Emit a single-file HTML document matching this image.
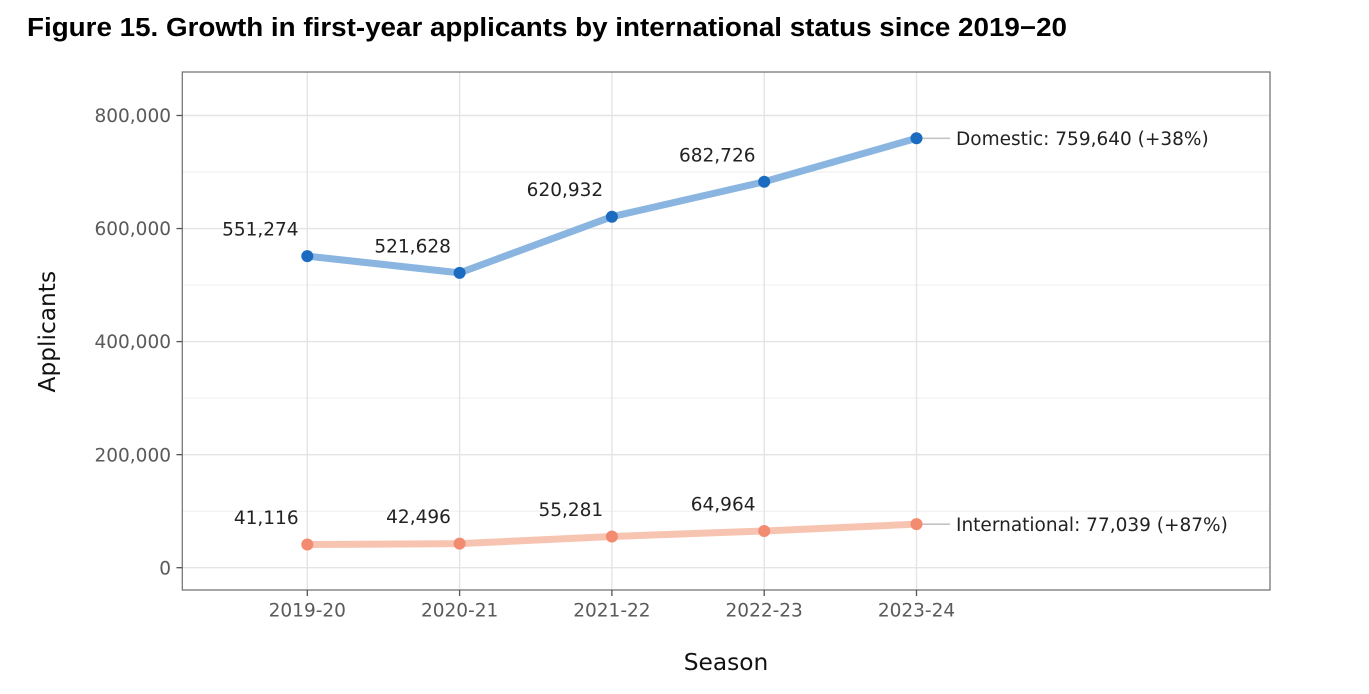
<!DOCTYPE html>
<html>
<head>
<meta charset="utf-8">
<style>
  html,body{margin:0;padding:0;background:#fff;}
  svg{display:block;}
  .t{font-family:"DejaVu Sans","Liberation Sans",sans-serif;}
</style>
</head>
<body>
<svg width="1369" height="694" viewBox="0 0 1369 694" xmlns="http://www.w3.org/2000/svg">
  <rect width="1369" height="694" fill="#fff"/>
  <!-- Title -->
  <text x="27" y="36" font-family="'Liberation Sans',Arial,sans-serif" font-weight="bold" font-size="25.5" fill="#000" textLength="1040" lengthAdjust="spacingAndGlyphs">Figure 15. Growth in first-year applicants by international status since 2019−20</text>

  <!-- Panel background -->
  <rect x="182.3" y="72" width="1087.7" height="518" fill="#fff"/>
  <!-- minor gridlines -->
  <g stroke="#ececec" stroke-width="0.9">
    <line x1="182.3" x2="1270" y1="511.2" y2="511.2"/>
    <line x1="182.3" x2="1270" y1="398.1" y2="398.1"/>
    <line x1="182.3" x2="1270" y1="285.1" y2="285.1"/>
    <line x1="182.3" x2="1270" y1="172.0" y2="172.0"/>
  </g>
  <!-- major gridlines -->
  <g stroke="#e4e4e4" stroke-width="1.4">
    <line x1="182.3" x2="1270" y1="567.7" y2="567.7"/>
    <line x1="182.3" x2="1270" y1="454.65" y2="454.65"/>
    <line x1="182.3" x2="1270" y1="341.6" y2="341.6"/>
    <line x1="182.3" x2="1270" y1="228.55" y2="228.55"/>
    <line x1="182.3" x2="1270" y1="115.5" y2="115.5"/>
    <line x1="307.3" x2="307.3" y1="72" y2="590"/>
    <line x1="459.6" x2="459.6" y1="72" y2="590"/>
    <line x1="611.9" x2="611.9" y1="72" y2="590"/>
    <line x1="764.2" x2="764.2" y1="72" y2="590"/>
    <line x1="916.5" x2="916.5" y1="72" y2="590"/>
  </g>

  <!-- Leader lines -->
  <g stroke="#c4c4c4" stroke-width="1.6">
    <line x1="916.5" x2="950" y1="138.3" y2="138.3"/>
    <line x1="916.5" x2="950" y1="524.15" y2="524.15"/>
  </g>

  <!-- Domestic line -->
  <polyline points="307.3,256.1 459.6,272.85 611.9,216.7 764.2,181.8 916.5,138.3" fill="none" stroke="#89b5e0" stroke-width="7" stroke-linejoin="round" stroke-linecap="butt"/>
  <!-- International line -->
  <polyline points="307.3,544.46 459.6,543.68 611.9,536.45 764.2,530.98 916.5,524.15" fill="none" stroke="#f8c4b2" stroke-width="7" stroke-linejoin="round" stroke-linecap="butt"/>

  <!-- Points -->
  <g fill="#1b6bc0">
    <circle cx="307.3" cy="256.1" r="6"/>
    <circle cx="459.6" cy="272.85" r="6"/>
    <circle cx="611.9" cy="216.7" r="6"/>
    <circle cx="764.2" cy="181.8" r="6"/>
    <circle cx="916.5" cy="138.3" r="6"/>
  </g>
  <g fill="#f28b6f">
    <circle cx="307.3" cy="544.46" r="6"/>
    <circle cx="459.6" cy="543.68" r="6"/>
    <circle cx="611.9" cy="536.45" r="6"/>
    <circle cx="764.2" cy="530.98" r="6"/>
    <circle cx="916.5" cy="524.15" r="6"/>
  </g>

  <!-- Data labels -->
  <g class="t" font-size="18.5" fill="#222" text-anchor="end">
    <text x="298.6" y="235.6">551,274</text>
    <text x="450.9" y="252.3">521,628</text>
    <text x="603.2" y="196.2">620,932</text>
    <text x="755.5" y="161.3">682,726</text>
    <text x="298.6" y="524">41,116</text>
    <text x="450.9" y="523.2">42,496</text>
    <text x="603.2" y="516">55,281</text>
    <text x="755.5" y="510.5">64,964</text>
  </g>
  <!-- End labels -->
  <g class="t" font-size="18.5" fill="#222">
    <text x="956" y="144.9">Domestic: 759,640 (+38%)</text>
    <text x="956" y="530.8">International: 77,039 (+87%)</text>
  </g>

  <!-- Panel border -->
  <rect x="182.3" y="72" width="1087.7" height="518" fill="none" stroke="#777" stroke-width="1.3"/>

  <!-- Axis ticks -->
  <g stroke="#555" stroke-width="1.3">
    <line x1="176.5" x2="182.3" y1="567.7" y2="567.7"/>
    <line x1="176.5" x2="182.3" y1="454.65" y2="454.65"/>
    <line x1="176.5" x2="182.3" y1="341.6" y2="341.6"/>
    <line x1="176.5" x2="182.3" y1="228.55" y2="228.55"/>
    <line x1="176.5" x2="182.3" y1="115.5" y2="115.5"/>
    <line x1="307.3" x2="307.3" y1="590" y2="596"/>
    <line x1="459.6" x2="459.6" y1="590" y2="596"/>
    <line x1="611.9" x2="611.9" y1="590" y2="596"/>
    <line x1="764.2" x2="764.2" y1="590" y2="596"/>
    <line x1="916.5" x2="916.5" y1="590" y2="596"/>
  </g>

  <!-- Y tick labels -->
  <g class="t" font-size="18.5" fill="#5a5a5a" text-anchor="end">
    <text x="171" y="574.3">0</text>
    <text x="171" y="461.3">200,000</text>
    <text x="171" y="348.2">400,000</text>
    <text x="171" y="235.2">600,000</text>
    <text x="171" y="122.1">800,000</text>
  </g>
  <!-- X tick labels -->
  <g class="t" font-size="18.5" fill="#5a5a5a" text-anchor="middle">
    <text x="307.3" y="616.5">2019-20</text>
    <text x="459.6" y="616.5">2020-21</text>
    <text x="611.9" y="616.5">2021-22</text>
    <text x="764.2" y="616.5">2022-23</text>
    <text x="916.5" y="616.5">2023-24</text>
  </g>

  <!-- Axis titles -->
  <text class="t" x="726" y="670" font-size="23.3" fill="#111" text-anchor="middle">Season</text>
  <text class="t" transform="translate(55,331.7) rotate(-90)" font-size="23.3" fill="#111" text-anchor="middle">Applicants</text>
</svg>
</body>
</html>
